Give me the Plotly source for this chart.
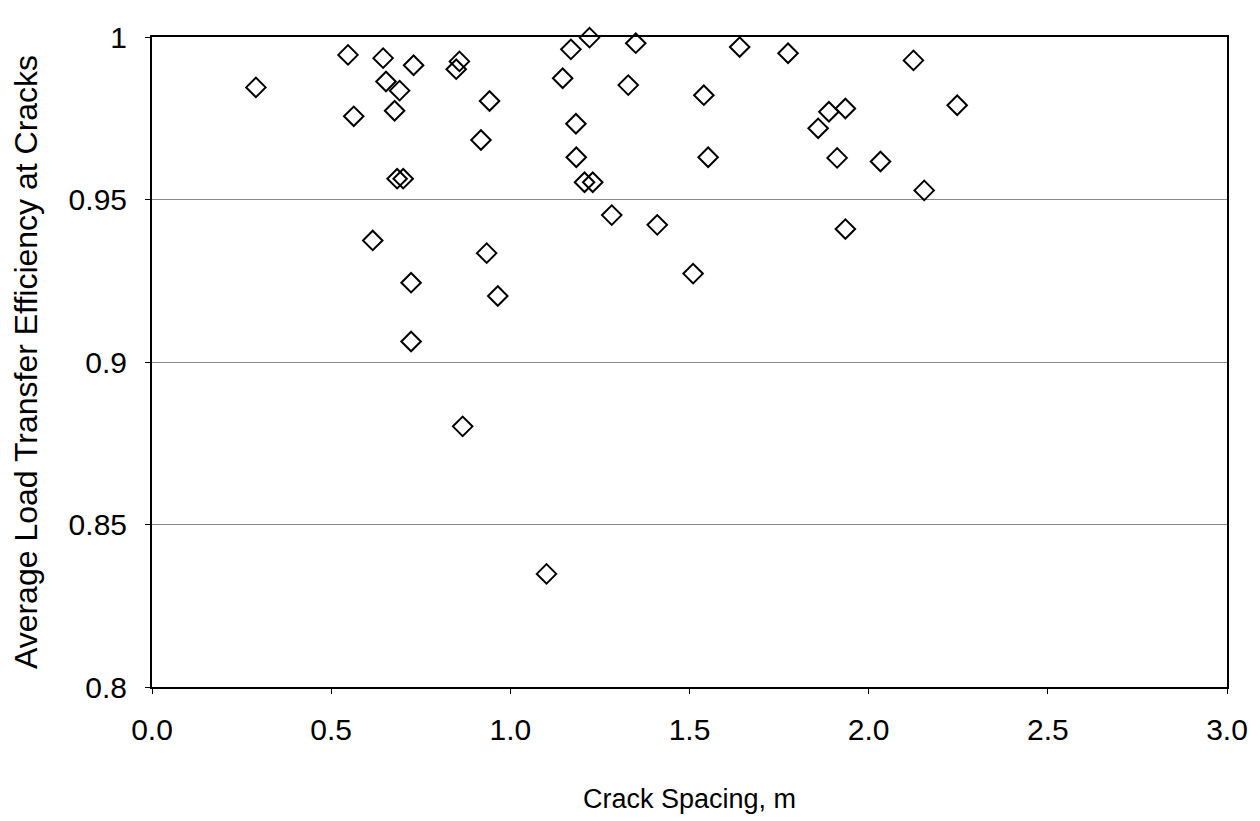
import plotly.graph_objects as go

# Crack spacing (m) and average load transfer efficiency
crack_spacing = [
    0.290, 0.547, 0.563, 0.645, 0.653, 0.691, 0.677, 0.730, 0.858, 0.849,
    0.942, 0.918, 0.684, 0.701, 0.616, 0.934, 0.723, 0.965, 0.723, 0.867,
    1.101, 1.169, 1.221, 1.146, 1.329, 1.350, 1.183, 1.184, 1.207, 1.230,
    1.283, 1.410, 1.510, 1.540, 1.552, 1.640, 1.775, 2.125, 1.859, 1.889,
    1.935, 1.912, 2.033, 1.935, 2.155, 2.247,
]
lte = [
    0.9845, 0.9945, 0.9756, 0.9935, 0.9863, 0.9835, 0.9773, 0.9913, 0.9925, 0.9901,
    0.9803, 0.9683, 0.9564, 0.9564, 0.9374, 0.9335, 0.9244, 0.9203, 0.9063, 0.8802,
    0.8348, 0.9962, 0.9998, 0.9873, 0.9852, 0.9981, 0.9733, 0.9630, 0.9553, 0.9553,
    0.9452, 0.9422, 0.9272, 0.9821, 0.9630, 0.9969, 0.9950, 0.9928, 0.9719, 0.9770,
    0.9780, 0.9628, 0.9617, 0.9409, 0.9528, 0.9790,
]

x_tickvals = [0.0, 0.5, 1.0, 1.5, 2.0, 2.5, 3.0]
x_ticktext = ["0.0", "0.5", "1.0", "1.5", "2.0", "2.5", "3.0"]
y_tickvals = [0.8, 0.85, 0.9, 0.95, 1.0]
y_ticktext = ["0.8", "0.85", "0.9", "0.95", "1"]

FONT = "Liberation Sans Narrow, Arial Narrow, Liberation Sans, Arial, sans-serif"

fig = go.Figure()
fig.add_trace(go.Scatter(
    x=crack_spacing, y=lte, mode="markers",
    marker=dict(symbol="diamond-open", size=15, color="black",
                line=dict(width=2, color="black")),
    cliponaxis=False, showlegend=False,
))

# the page body adds an 8px offset, so the figure is 8px smaller on each side
fig.update_layout(
    width=1252, height=813,
    margin=dict(l=144, r=31, t=24, b=133),
    paper_bgcolor="white", plot_bgcolor="white",
    font=dict(family=FONT, color="black", size=28),
    xaxis=dict(
        range=[0, 3], tickvals=x_tickvals, ticktext=x_ticktext,
        showgrid=False, zeroline=False,
        showline=True, linecolor="black", linewidth=2, mirror=True,
        ticks="outside", ticklen=5, tickwidth=1, tickcolor="black",
        ticklabelstandoff=10,
        tickfont=dict(size=30),
        title=dict(text="Crack Spacing, m", font=dict(size=27), standoff=44),
    ),
    yaxis=dict(
        range=[0.8, 1.0], tickvals=y_tickvals, ticktext=y_ticktext,
        showgrid=True, gridcolor="#8a8a8a", gridwidth=1, zeroline=False,
        showline=True, linecolor="black", linewidth=2, mirror=True,
        ticks="outside", ticklen=5, tickwidth=1, tickcolor="black",
        ticklabelstandoff=12,
        tickfont=dict(size=30),
        title=dict(text="Average Load Transfer Efficiency at Cracks",
                   font=dict(size=32), standoff=22),
    ),
)

fig.write_html("out.html")
